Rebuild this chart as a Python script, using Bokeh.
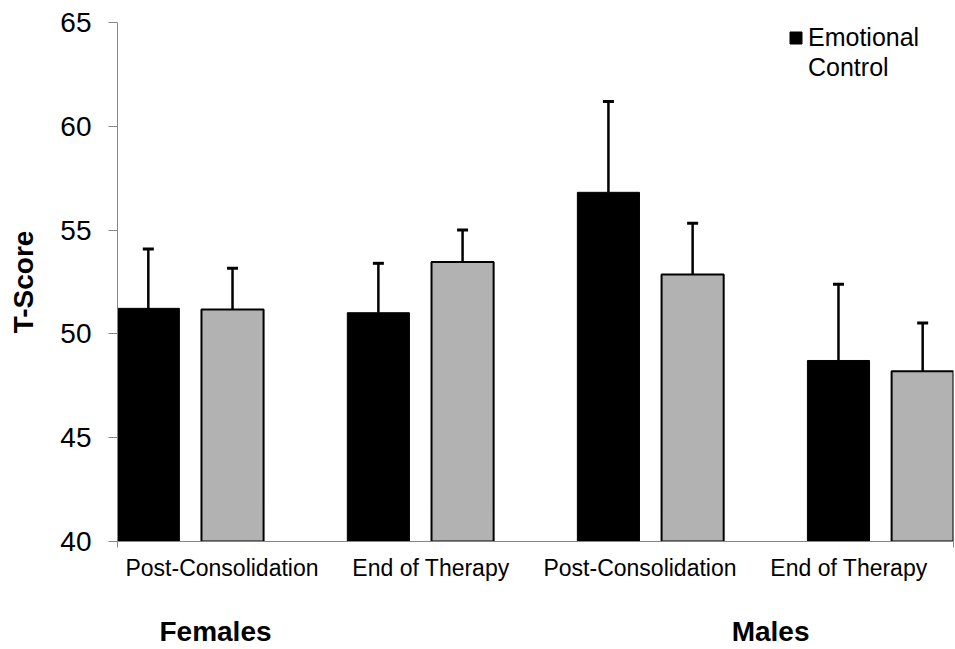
from bokeh.plotting import figure
from bokeh.models import (ColumnDataSource, Whisker, TeeHead, FixedTicker, Legend,
                          LegendItem, Range1d, LinearAxis)
from bokeh.embed import file_html
from bokeh.resources import INLINE

# ---- data ----
timepoints = ["Post-Consolidation", "End of Therapy", "Post-Consolidation", "End of Therapy"]
groups = ["Females", "Males"]
legend_label = ["Emotional", "Control"]
black_mean = [51.23, 51.02, 56.82, 48.72]
black_err = [2.86, 2.38, 4.37, 3.67]
gray_mean = [51.18, 53.46, 52.86, 48.20]
gray_err = [1.98, 1.54, 2.47, 2.32]
y_ticks = [40, 45, 50, 55, 60, 65]

# ---- layout constants ----
FONT = "Liberation Sans"
X_LO, X_HI = -0.317, 3.317
OFFSET = 0.183
BAR_W = 0.27
GROUP_LABEL_X = [0.109, 2.522]

idx = list(range(len(timepoints)))
src_b = ColumnDataSource(dict(
    x=[i - OFFSET for i in idx], top=black_mean,
    upper=[m + e for m, e in zip(black_mean, black_err)]))
src_g = ColumnDataSource(dict(
    x=[i + OFFSET for i in idx], top=gray_mean,
    upper=[m + e for m, e in zip(gray_mean, gray_err)]))

p = figure(width=955, height=649, x_range=Range1d(X_LO, X_HI), y_range=Range1d(40, 65),
           output_backend="svg", toolbar_location=None,
           min_border_left=117, min_border_right=2, min_border_top=22, min_border_bottom=108)
p.outline_line_color = None
p.xgrid.visible = False
p.ygrid.visible = False

rb = p.vbar(x="x", top="top", bottom=40, width=BAR_W, source=src_b,
            fill_color="black", line_color="black", line_width=1)
rg = p.vbar(x="x", top="top", bottom=40, width=BAR_W, source=src_g,
            fill_color="#b2b2b2", line_color="black", line_width=2)

for src in (src_b, src_g):
    w = Whisker(source=src, base="x", upper="upper", lower="top", dimension="height",
                line_color="black", line_width=2.5,
                upper_head=TeeHead(size=11, line_width=3, line_color="black"),
                lower_head=None)
    p.add_layout(w)

# y axis
yax = p.yaxis[0]
yax.ticker = FixedTicker(ticks=y_ticks)
yax.axis_label = "T-Score"
yax.axis_label_text_font = FONT
yax.axis_label_text_font_style = "bold"
yax.axis_label_text_font_size = "28px"
yax.axis_label_text_color = "black"
yax.axis_label_standoff = 18
yax.major_label_text_font = FONT
yax.major_label_text_font_size = "28px"
yax.major_label_text_color = "black"
yax.major_label_standoff = 17
yax.major_tick_out = 9
yax.major_tick_in = 0
yax.minor_tick_out = 0
yax.minor_tick_in = 0
yax.axis_line_color = "#868686"
yax.major_tick_line_color = "#868686"

# x axis (time points)
n = len(timepoints)
label_pos = [X_LO + (i + 0.5) * (X_HI - X_LO) / n for i in range(n)]
xax = p.xaxis[0]
xax.ticker = FixedTicker(ticks=label_pos, minor_ticks=[X_LO, X_HI])
xax.major_label_overrides = {pos: lab for pos, lab in zip(label_pos, timepoints)}
xax.major_label_text_font = FONT
xax.major_label_text_font_size = "23px"
xax.major_label_text_color = "black"
xax.major_label_standoff = 7
xax.major_tick_out = 0
xax.major_tick_in = 0
xax.minor_tick_out = 6
xax.minor_tick_in = 0
xax.minor_tick_line_color = "#868686"
xax.axis_line_color = "#868686"

# group axis (Females / Males)
gax = LinearAxis(ticker=FixedTicker(ticks=GROUP_LABEL_X),
                 major_label_overrides={gx: g for gx, g in zip(GROUP_LABEL_X, groups)})
gax.major_label_text_font = FONT
gax.major_label_text_font_size = "28px"
gax.major_label_text_font_style = "bold"
gax.major_label_text_color = "black"
gax.major_label_standoff = 32
gax.major_tick_out = 0
gax.major_tick_in = 0
gax.minor_tick_out = 0
gax.minor_tick_in = 0
gax.axis_line_color = None
p.add_layout(gax, "below")

legend = Legend(items=[LegendItem(label=legend_label[0], renderers=[rb]),
                       LegendItem(label=legend_label[1], renderers=[])],
                location=(671, 459), padding=0, margin=0, spacing=0,
                border_line_color=None, background_fill_alpha=0,
                glyph_width=15, glyph_height=15, label_height=30,
                label_standoff=5, label_text_font=FONT, label_text_font_size="25px",
                label_text_color="black")
p.add_layout(legend)

open("out.html", "w").write(file_html(p, INLINE))
